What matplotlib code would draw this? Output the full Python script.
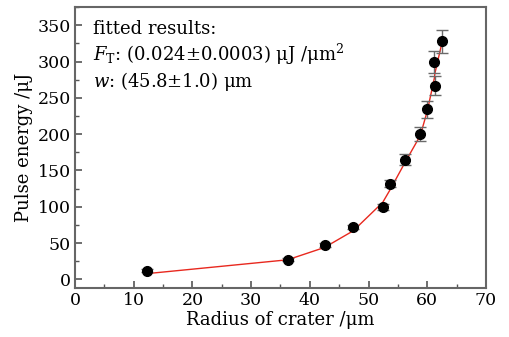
import numpy as np
import matplotlib
matplotlib.use('Agg')
import matplotlib.pyplot as plt
from matplotlib.ticker import MultipleLocator

plt.rcParams['font.family'] = 'DejaVu Serif'
plt.rcParams['mathtext.fontset'] = 'dejavuserif'

# measured points
radius = [12.3, 36.2, 42.5, 47.4, 52.4, 53.7, 56.2, 58.8, 60.0, 61.3, 61.2, 62.5]
energy = [12, 27, 47, 72, 100, 132, 165, 200, 234, 267, 299, 328]
energy_err = [2, 2, 3, 3, 4, 5, 8, 10, 12, 13, 15, 16]

# fitted curve
fit_r = [12.3, 36.2, 42.5, 47.4, 52.4, 53.7, 56.2, 58.8, 60.0, 61.2, 61.3, 62.5]
fit_e = [8, 27, 44, 67, 106, 124, 161, 198, 232, 277, 284, 326]

xticks = [0, 10, 20, 30, 40, 50, 60, 70]
yticks = [0, 50, 100, 150, 200, 250, 300, 350]

fig = plt.figure(figsize=[5.1, 3.37], dpi=100)
ax = fig.add_axes([0.147, 0.145, 0.806, 0.834])

ax.plot(fit_r, fit_e, color='#e8281e', lw=1.0, zorder=3)
ax.errorbar(radius, energy, yerr=energy_err, fmt='o', color='black',
            ms=7, ecolor='#6a6a6a', elinewidth=1.0, capsize=4.5,
            capthick=1.0, zorder=4)

ax.set_xlim(0, 70)
ax.set_ylim(-12, 375)
ax.set_xticks(xticks)
ax.set_yticks(yticks)
ax.xaxis.set_minor_locator(MultipleLocator(5))
ax.yaxis.set_minor_locator(MultipleLocator(25))
ax.tick_params(which='both', direction='in', color='#555555', labelsize=12.5,
               top=False, right=False, pad=3)
ax.tick_params(which='major', length=5, width=1.2)
ax.tick_params(which='minor', length=3, width=1.0)
for s in ax.spines.values():
    s.set_color('#666666')
    s.set_linewidth(1.5)

ax.set_xlabel('Radius of crater /μm', fontsize=13, labelpad=1)
ax.set_ylabel('Pulse energy /μJ', fontsize=13, labelpad=3)

ax.text(0.044, 0.955, 'fitted results:\n'
        r'$F_{\rm T}$: (0.024$\pm$0.0003) μJ /μm$^2$' '\n'
        r'$w$: (45.8$\pm$1.0) μm',
        transform=ax.transAxes, ha='left', va='top', fontsize=13,
        linespacing=1.2)

fig.savefig('out.png', dpi=100)
